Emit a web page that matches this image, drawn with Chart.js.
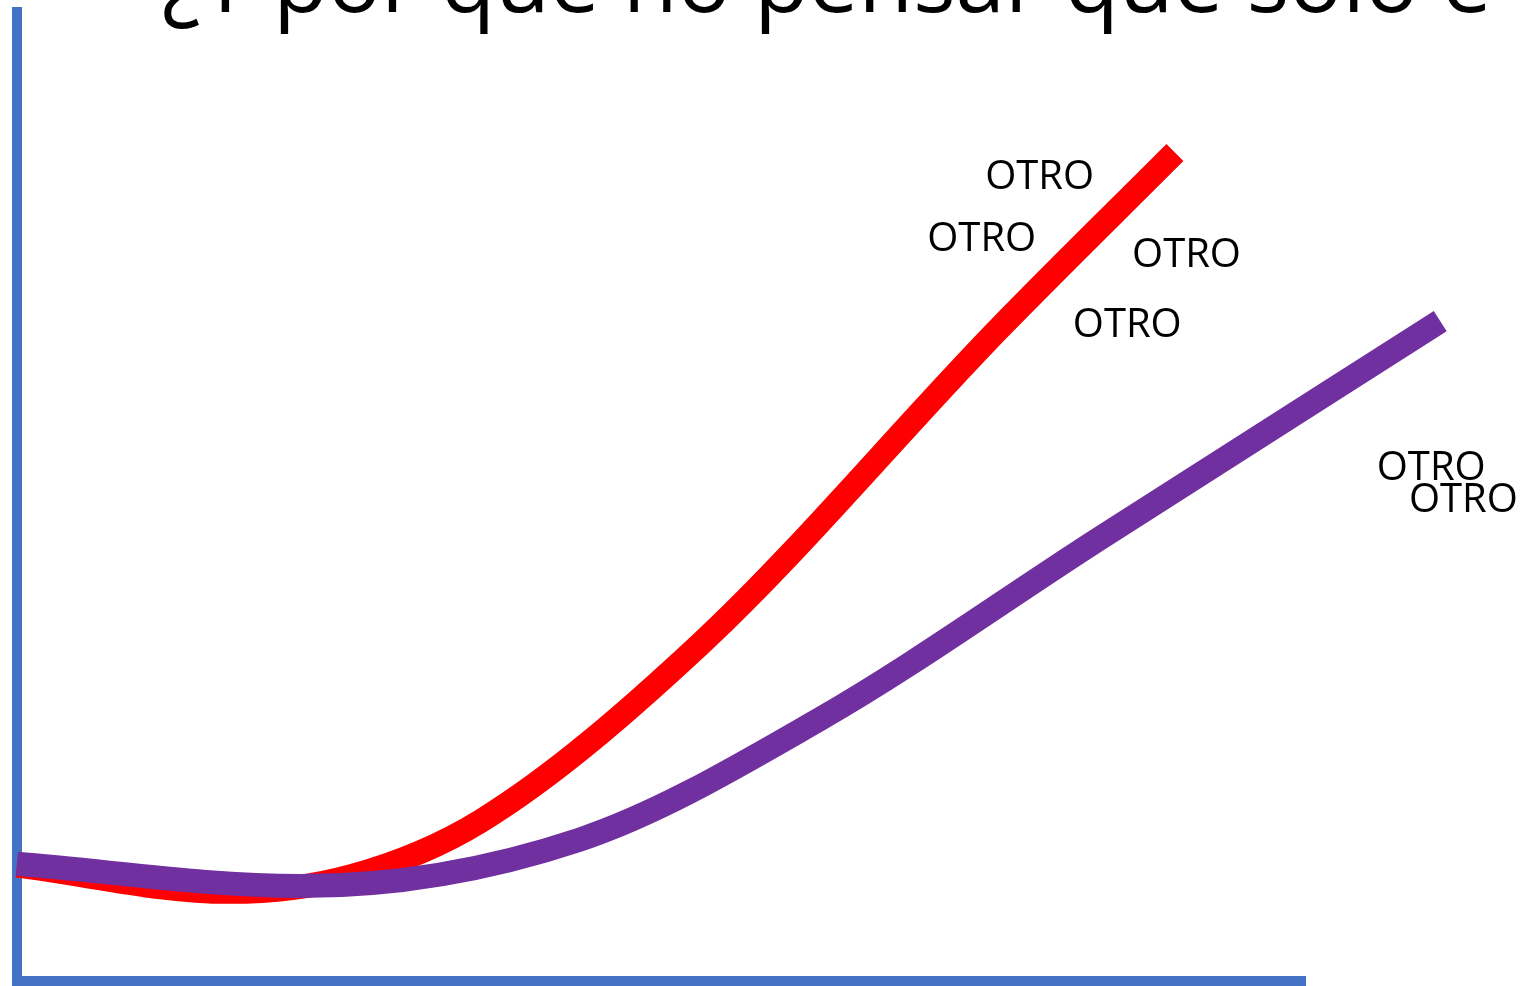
<!DOCTYPE html>
<html lang="es">
<head>
  <meta charset="UTF-8">
  <title>¿Y por qué no pensar que solo e</title>
  <script src="https://cdn.jsdelivr.net/npm/chart.js"></script>
  <style>
    html, body { margin: 0; padding: 0; background: #fff; overflow: hidden; }
    #wrap { position: relative; width: 1524px; height: 986px; overflow: hidden; }
    #titulo {
      position: absolute; left: 162px; top: -67px; margin: 0;
      font: normal 89px "Open Sans", sans-serif; line-height: 1;
      white-space: nowrap; color: #000;
    }
  </style>
</head>
<body>
<div id="wrap">
  <canvas id="grafico"></canvas>
  <h1 id="titulo">¿Y por qué no pensar que solo e</h1>
</div>

<script>
// unidades relativas: 0-100 = largo de cada eje
const xRojo   = [0, 16.5, 25.9, 36.0, 53.0, 76.3, 89.9];
const yRojo   = [11.9, 9.2, 10.8, 16.5, 34.7, 67.4, 85.5];
const xMorado = [0, 22.0, 43.7, 62.3, 84.1, 110.5];
const yMorado = [12.1, 9.8, 14.6, 27.0, 45.7, 68.1];

const etiquetasTexto = ['OTRO', 'OTRO', 'OTRO', 'OTRO', 'OTRO', 'OTRO'];
const etiquetasX = [79.4, 74.9, 90.8, 86.2, 109.8, 112.3];
const etiquetasY = [83.2, 76.8, 75.2, 68.0, 53.2, 49.9];

const etiquetasPlugin = {
  id: 'etiquetas',
  afterDatasetsDraw(chart) {
    const { ctx, scales: { x, y } } = chart;
    ctx.save();
    ctx.font = '40px "Open Sans"';
    ctx.fillStyle = '#000';
    ctx.textAlign = 'center';
    ctx.textBaseline = 'alphabetic';
    etiquetasTexto.forEach((t, i) => {
      const m = ctx.measureText(t);
      ctx.fillText(t, x.getPixelForValue(etiquetasX[i]),
        y.getPixelForValue(etiquetasY[i]) + m.actualBoundingBoxAscent / 2);
    });
    ctx.restore();
  }
};

const eje = {
  ticks: { display: false },
  grid: { display: false, drawTicks: false },
  border: { display: true, color: '#4472C4', width: 10 }
};

new Chart(document.getElementById('grafico'), {
  type: 'line',
  data: {
    datasets: [
      {
        label: 'rojo',
        data: xRojo.map((x, i) => ({ x: x, y: yRojo[i] })),
        borderColor: '#FF0000',
        borderWidth: 24,
        borderCapStyle: 'butt',
        pointRadius: 0,
        cubicInterpolationMode: 'monotone',
        clip: false,
        order: 1
      },
      {
        label: 'morado',
        data: xMorado.map((x, i) => ({ x: x, y: yMorado[i] })),
        borderColor: '#7030A0',
        borderWidth: 24,
        borderCapStyle: 'butt',
        pointRadius: 0,
        cubicInterpolationMode: 'monotone',
        clip: false,
        order: 0
      }
    ]
  },
  options: {
    responsive: true,
    maintainAspectRatio: false,
    animation: false,
    layout: { padding: { left: 17, right: 219, top: 12, bottom: 5 } },
    plugins: { legend: { display: false }, tooltip: { enabled: false } },
    scales: {
      x: {
        type: 'linear',
        bounds: 'data',
        // el eje horizontal termina antes que la curva morada
        afterDataLimits: (s) => { s.min = 0; s.max = 100; },
        ...eje
      },
      y: { type: 'linear', min: 0, max: 100, ...eje }
    }
  },
  plugins: [etiquetasPlugin]
});
</script>
</body>
</html>
